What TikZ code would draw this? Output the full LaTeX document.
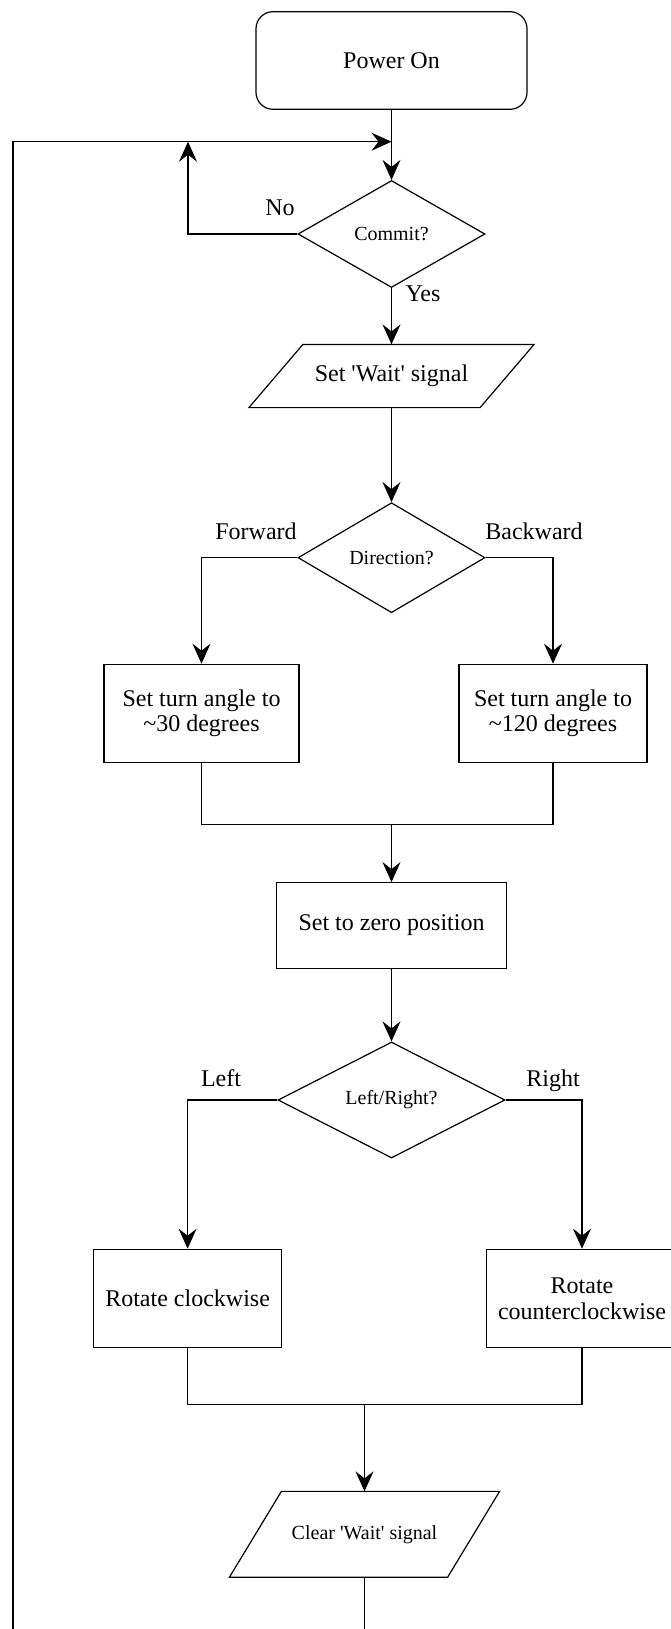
\documentclass[tikz,border=0pt]{standalone}
\usepackage{fontspec}
\setmainfont{Liberation Serif}
\usetikzlibrary{shapes.geometric,arrows.meta}
\begin{document}
\begin{tikzpicture}[x=1pt,y=-1pt,
  line width=1.2pt,
  >={Stealth[length=20pt,width=18pt,inset=7pt]},
  every node/.style={inner sep=0pt, font=\fontsize{24}{25.5}\selectfont},
  term/.style={draw, rounded corners=17pt, minimum width=271pt, minimum height=97.6pt},
  box/.style={draw, align=center},
  decision/.style={draw, diamond, font=\fontsize{20}{22}\selectfont},
  io/.style={align=center},
  lbl/.style={anchor=base}]

\useasboundingbox (0,0) rectangle (670,1629);

% process steps
\node[term] (power) at (391.5,60.5) {Power On};
\node[decision, minimum width=187pt, minimum height=107pt] (commit) at (391.5,234) {Commit?};
\node[io, minimum width=230pt, minimum height=62pt] (setwait) at (391.5,376)
  {Set \textquotesingle Wait\textquotesingle{} signal};
\node[decision, minimum width=187pt, minimum height=110pt] (dir) at (391.5,557.7) {Direction?};
\node[box, minimum width=195pt, minimum height=98pt] (fwd) at (201.5,713.3)
  {Set turn angle to\\ \textasciitilde 30 degrees};
\node[box, minimum width=188pt, minimum height=98pt] (bwd) at (553,713.3)
  {Set turn angle to\\ \textasciitilde 120 degrees};
\node[box, minimum width=229.5pt, minimum height=85.6pt] (zero) at (391.5,925.5) {Set to zero position};
\node[decision, minimum width=227pt, minimum height=116pt] (lr) at (391.5,1100) {Left/Right?};
\node[box, minimum width=188pt, minimum height=98.4pt] (cw) at (187.6,1298.5) {Rotate clockwise};
\node[box, minimum width=191pt, minimum height=98.4pt] (ccw) at (582,1298.5) {Rotate\\counterclockwise};
\node[io, font=\fontsize{20}{22}\selectfont, minimum width=217pt, minimum height=84.7pt] (clr) at (364.5,1534.3)
  {Clear \textquotesingle Wait\textquotesingle{} signal};

% parallelogram outlines of the signal steps
\draw ([xshift=27pt]setwait.north west) -- ([xshift=27pt]setwait.north east)
  -- ([xshift=-27pt]setwait.south east) -- ([xshift=-27pt]setwait.south west) -- cycle;
\draw ([xshift=26pt]clr.north west) -- ([xshift=26pt]clr.north east)
  -- ([xshift=-26pt]clr.south east) -- ([xshift=-26pt]clr.south west) -- cycle;

% branch labels
\node[lbl] (no) at (280,216) {No};
\node[lbl] (yes) at (423,301.7) {Yes};
\node[lbl] (forward) at (256,539) {Forward};
\node[lbl] (backward) at (534,539) {Backward};
\node[lbl] (left) at (221,1086.7) {Left};
\node[lbl] (right) at (553,1086.7) {Right};

% junction points
\coordinate (loopjoin) at (391.5,141.7);
\coordinate (nojoin) at (188,141.7);
\coordinate (m1) at (391.5,824.3);
\coordinate (m2) at (364.5,1404.3);
\coordinate (lb) at (13,1660);

% connectors
\draw[->] (power.south) -- (commit.north);
\draw[->] (commit.west) -| (nojoin);
\draw[->] (commit.south) -- (setwait.north);
\draw[->] (setwait.south) -- (dir.north);
\draw[->] (dir.west) -| (fwd.north);
\draw[->] (dir.east) -| (bwd.north);
\draw (fwd.south) |- (m1) -| (bwd.south);
\draw[->] (m1) -- (zero.north);
\draw[->] (zero.south) -- (lr.north);
\draw[->] (lr.west) -| (cw.north);
\draw[->] (lr.east) -| (ccw.north);
\draw (cw.south) |- (m2) -| (ccw.south);
\draw[->] (m2) -- (clr.north);
\draw[->] (clr.south) |- (lb) |- (loopjoin);
\end{tikzpicture}
\end{document}
